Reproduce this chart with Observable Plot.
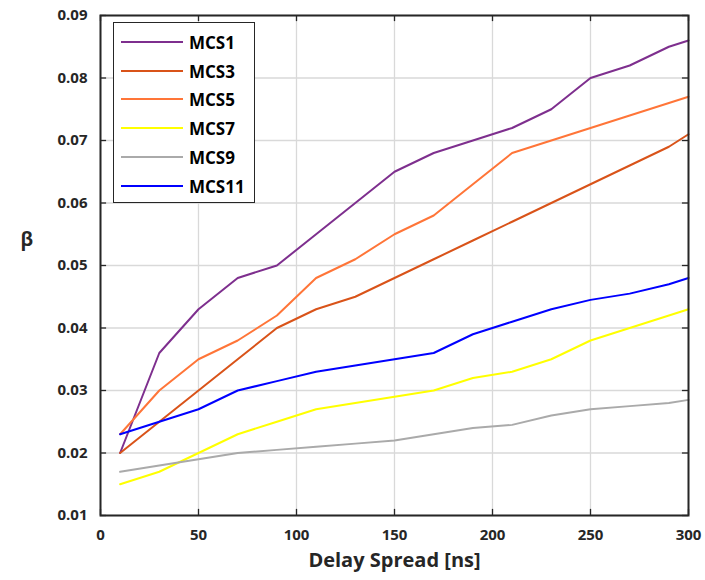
<!DOCTYPE html>
<html><head><meta charset="utf-8">
<script src="https://cdn.jsdelivr.net/npm/d3@7"></script>
<script src="https://cdn.jsdelivr.net/npm/@observablehq/plot@0.6"></script>
<style>
body{margin:0;background:#fff;font-family:"Open Sans",sans-serif;}
#wrap{position:relative;width:705px;height:580px;}
#legend{position:absolute;left:113px;top:22px;width:142px;height:181px;border:1.5px solid #262626;background:#fff;box-sizing:border-box;}
.item{position:absolute;left:0;height:20px;display:flex;align-items:center;font-weight:700;font-size:17px;color:#000;}
.item span.sw{display:inline-block;width:62px;height:0;border-top:2px solid;margin-left:7px;margin-right:6px;}
</style></head>
<body><div id="wrap"><div id="legend"></div></div>
<script>
const delay = [10,30,50,70,90,110,130,150,170,190,210,230,250,270,290,300];
const seriesNames = ["MCS1","MCS3","MCS5","MCS7","MCS9","MCS11"];
const mcs1  = [0.020,0.036,0.043,0.048,0.050,0.055,0.060,0.065,0.068,0.070,0.072,0.075,0.080,0.082,0.085,0.086];
const mcs3  = [0.020,0.025,0.030,0.035,0.040,0.043,0.045,0.048,0.051,0.054,0.057,0.060,0.063,0.066,0.069,0.071];
const mcs5  = [0.023,0.030,0.035,0.038,0.042,0.048,0.051,0.055,0.058,0.063,0.068,0.070,0.072,0.074,0.076,0.077];
const mcs7  = [0.015,0.017,0.020,0.023,0.025,0.027,0.028,0.029,0.030,0.032,0.033,0.035,0.038,0.040,0.042,0.043];
const mcs9  = [0.017,0.018,0.019,0.020,0.0205,0.021,0.0215,0.022,0.023,0.024,0.0245,0.026,0.027,0.0275,0.028,0.0285];
const mcs11 = [0.023,0.025,0.027,0.030,0.0315,0.033,0.034,0.035,0.036,0.039,0.041,0.043,0.0445,0.0455,0.047,0.048];
const colors = ["#7E2F8E","#D95319","#FF7538","#FFFF00","#AAAAAA","#0000FF"];
const xTicks = [0,50,100,150,200,250,300];
const yTicks = [0.01,0.02,0.03,0.04,0.05,0.06,0.07,0.08,0.09];

const allSeries = [mcs1,mcs3,mcs5,mcs7,mcs9,mcs11];
const data = [];
allSeries.forEach((arr,i)=>arr.forEach((v,j)=>data.push({series:seriesNames[i],x:delay[j],y:v})));

const tx = 3.1, ty = 0.00098;
const ink = "#262626";
const chart = Plot.plot({
  width:705, height:580,
  marginLeft:100, marginRight:17, marginTop:15, marginBottom:65,
  style:{fontFamily:"'Open Sans',sans-serif",fontWeight:"700",fontSize:"15px",color:ink,background:"#fff"},
  x:{domain:[0,300]},
  y:{domain:[0.01,0.09]},
  color:{domain:seriesNames,range:colors},
  marks:[
    Plot.gridX(xTicks,{stroke:"#d9d9d9",strokeOpacity:1,strokeWidth:1.3}),
    Plot.gridY(yTicks,{stroke:"#d9d9d9",strokeOpacity:1,strokeWidth:1.3}),
    Plot.lineY(data,{x:"x",y:"y",z:"series",stroke:"series",strokeWidth:2}),
    Plot.ruleX(xTicks,{x:d=>d,y1:0.01,y2:0.01+ty,stroke:ink,strokeWidth:1.3}),
    Plot.ruleX(xTicks,{x:d=>d,y1:0.09,y2:0.09-ty,stroke:ink,strokeWidth:1.3}),
    Plot.ruleY(yTicks,{y:d=>d,x1:0,x2:tx,stroke:ink,strokeWidth:1.3}),
    Plot.ruleY(yTicks,{y:d=>d,x1:300,x2:300-tx,stroke:ink,strokeWidth:1.3}),
    Plot.frame({stroke:ink,strokeWidth:2}),
    Plot.axisX(xTicks,{tickSize:0,tickPadding:14,label:null,fill:ink}),
    Plot.axisY(yTicks,{tickSize:0,tickPadding:13,tickFormat:d3.format(".2f"),label:null,fill:ink}),
    Plot.text(["Delay Spread [ns]"],{frameAnchor:"bottom",dy:51,fontSize:20,fontWeight:700,fill:ink}),
    Plot.text(["β"],{frameAnchor:"left",dx:-80,dy:-26,fontSize:19,fontWeight:700,fill:ink})
  ]
});
document.getElementById("wrap").prepend(chart);
const leg = document.getElementById("legend");
const tops = [9,38,66,95,124,153];
seriesNames.forEach((n,i)=>{
  const d=document.createElement("div");d.className="item";d.style.top=tops[i]+"px";
  d.innerHTML=`<span class="sw" style="border-color:${colors[i]}"></span>${n}`;
  leg.appendChild(d);
});
</script></body></html>
